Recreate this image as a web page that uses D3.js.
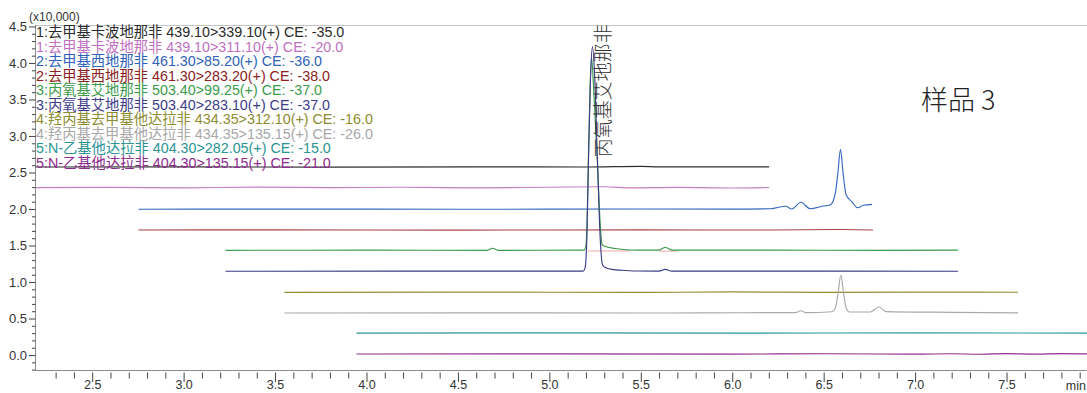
<!DOCTYPE html>
<html>
<head>
<meta charset="utf-8">
<script src="https://cdn.jsdelivr.net/npm/d3@7"></script>
<style>
  html, body { margin: 0; padding: 0; background: #fff; }
  svg { display: block; font-family: "Liberation Sans", Arial, "Noto Sans CJK SC", sans-serif; }
</style>
</head>
<body>
<svg id="chart" width="1087" height="393"></svg>
<script>
// MRM channel labels (compound : precursor > product, collision energy)
const channelLabels = [
  "1:去甲基卡波地那非 439.10>339.10(+) CE: -35.0",
  "1:去甲基卡波地那非 439.10>311.10(+) CE: -20.0",
  "2:去甲基西地那非 461.30>85.20(+) CE: -36.0",
  "2:去甲基西地那非 461.30>283.20(+) CE: -38.0",
  "3:丙氧基艾地那非 503.40>99.25(+) CE: -37.0",
  "3:丙氧基艾地那非 503.40>283.10(+) CE: -37.0",
  "4:羟丙基去甲基他达拉非 434.35>312.10(+) CE: -16.0",
  "4:羟丙基去甲基他达拉非 434.35>135.15(+) CE: -26.0",
  "5:N-乙基他达拉非 404.30>282.05(+) CE: -15.0",
  "5:N-乙基他达拉非 404.30>135.15(+) CE: -21.0"
];

// Offset chromatogram traces: [retention time (min), intensity (x10,000)]
const trace1a = [[2.19,2.575],[3.0,2.577],[3.8,2.574],[4.6,2.577],[5.2,2.575],[5.5,2.584],[5.6,2.576],[6.0,2.577],[6.202,2.576]];
const trace1b = [[2.19,2.292],[2.6,2.296],[3.0,2.290],[3.4,2.299],[3.8,2.292],[4.2,2.298],[4.6,2.290],[5.0,2.298],[5.3,2.305],[5.45,2.289],[5.7,2.296],[6.0,2.288],[6.202,2.294]];
const trace2a = [[2.753,1.996],[3.5,1.999],[4.5,1.996],[5.5,2.000],[6.0,1.998],[6.208,2.004],[6.293,2.037],[6.326,2.000],[6.375,2.092],[6.426,2.004],[6.499,2.041],[6.535,2.055],[6.553,2.114],[6.566,2.25],[6.578,2.50],[6.592,2.818],[6.604,2.55],[6.614,2.32],[6.623,2.192],[6.654,2.100],[6.685,2.018],[6.717,2.051],[6.765,2.064]];
const trace2b = [[2.753,1.712],[3.5,1.714],[4.5,1.711],[5.5,1.714],[6.2,1.712],[6.6,1.719],[6.770,1.712]];
const trace3a = [[3.229,1.434],[4.0,1.436],[4.66,1.434],[4.69,1.462],[4.72,1.434],[5.19,1.436],[5.199,1.48],[5.206,1.80],[5.213,2.626],[5.222,3.60],[5.231,4.068],[5.243,3.60],[5.263,2.626],[5.278,1.80],[5.288,1.516],[5.300,1.493],[5.360,1.459],[5.442,1.438],[5.597,1.436],[5.633,1.475],[5.673,1.436],[6.2,1.437],[6.8,1.433],[7.235,1.436]];
const trace3b = [[3.229,1.147],[4.2,1.149],[5.185,1.150],[5.195,1.19],[5.205,1.60],[5.214,2.671],[5.225,3.80],[5.236,4.223],[5.248,3.80],[5.263,2.671],[5.278,1.60],[5.291,1.233],[5.311,1.192],[5.350,1.170],[5.388,1.162],[5.470,1.151],[5.60,1.150],[5.633,1.174],[5.67,1.150],[6.5,1.149],[7.235,1.148]];
const trace4a = [[3.551,0.859],[4.5,0.862],[5.5,0.858],[6.0,0.864],[6.5,0.858],[7.0,0.862],[7.563,0.860]];
const trace4b = [[3.551,0.575],[4.5,0.578],[5.5,0.575],[6.2,0.580],[6.344,0.580],[6.375,0.607],[6.404,0.580],[6.545,0.593],[6.563,0.640],[6.580,0.867],[6.594,1.096],[6.608,0.867],[6.623,0.644],[6.641,0.589],[6.754,0.590],[6.803,0.658],[6.841,0.595],[7.2,0.585],[7.563,0.578]];
const trace5a = [[3.945,0.301],[5.0,0.303],[6.0,0.300],[7.0,0.303],[7.94,0.301]];
const trace5b = [[3.945,0.014],[5.0,0.016],[6.0,0.013],[6.5,0.018],[7.0,0.012],[7.2,0.017],[7.35,0.011],[7.5,0.019],[7.65,0.012],[7.8,0.020],[7.94,0.015]];
const traces = [trace1a, trace1b, trace2a, trace2b, trace3a, trace3b, trace4a, trace4b, trace5a, trace5b];

// Integration baselines under the 丙氧基艾地那非 peaks: [start, end, level]
const integrationBaselines = [[5.21, 5.44, 1.432], [5.60, 5.70, 1.430]];

const xTickValues = [2.5, 3.0, 3.5, 4.0, 4.5, 5.0, 5.5, 6.0, 6.5, 7.0, 7.5];
const yTickValues = [0.0, 0.5, 1.0, 1.5, 2.0, 2.5, 3.0, 3.5, 4.0, 4.5];
const peakName = "丙氧基艾地那非";
const sampleName = "样品 3";

// Drawing styles
const traceColors = ["#2e2e2e", "#c77fc6", "#3568bd", "#a84444", "#3b9a4b", "#3b3b86", "#8e8e33", "#a9a9a9", "#2a9898", "#902d90"];
const labelColors = ["#2a2a2a", "#c070c0", "#2f62b8", "#8b2222", "#3c9a4c", "#3c3c88", "#8c8c30", "#a8a8a8", "#2a9494", "#8e2b8e"];

const svg = d3.select("#chart");
const plotLeft = 35.5, plotRight = 1087, plotTop = 25, plotBottom = 370;

const x = d3.scaleLinear().domain([2.19, 7.94]).range([plotLeft, plotRight]);
const y = d3.scaleLinear().domain([-0.205, 4.52]).range([plotBottom, plotTop]);

svg.append("defs").append("clipPath").attr("id", "plotClip")
  .append("rect").attr("x", plotLeft).attr("y", 0).attr("width", plotRight - plotLeft).attr("height", plotBottom);

// frame
svg.append("line").attr("x1", plotLeft).attr("x2", plotRight).attr("y1", plotTop + 0.5).attr("y2", plotTop + 0.5)
  .attr("stroke", "#c4c4c4").attr("stroke-width", 1);
svg.append("line").attr("x1", plotLeft).attr("x2", plotLeft).attr("y1", plotTop).attr("y2", plotBottom)
  .attr("stroke", "#8a8a8a").attr("stroke-width", 1);
svg.append("line").attr("x1", plotLeft).attr("x2", plotRight).attr("y1", plotBottom + 0.5).attr("y2", plotBottom + 0.5)
  .attr("stroke", "#8a8a8a").attr("stroke-width", 1);

// y axis: major + minor ticks
const yMinor = d3.range(-2, 46).map(d => d / 10).filter(v => Math.abs(v * 2 - Math.round(v * 2)) > 1e-6);
svg.append("g").attr("transform", `translate(${plotLeft},0)`)
  .call(d3.axisLeft(y).tickValues(yMinor).tickSize(3.5).tickFormat(""))
  .call(g => g.select(".domain").remove())
  .call(g => g.selectAll("line").attr("stroke", "#444"));
svg.append("g").attr("transform", `translate(${plotLeft},0)`)
  .call(d3.axisLeft(y).tickValues(yTickValues).tickSize(6.5).tickPadding(2).tickFormat(d3.format(".1f")))
  .call(g => g.select(".domain").remove())
  .call(g => g.selectAll("line").attr("stroke", "#444"))
  .call(g => g.selectAll("text").attr("fill", "#333").style("font-size", "13px").style("font-family", "Liberation Sans, Arial, sans-serif"));

// x axis: major + minor ticks
const xMinor = d3.range(23, 80).map(d => d / 10).filter(v => Math.abs(v * 2 - Math.round(v * 2)) > 1e-6);
svg.append("g").attr("transform", `translate(0,${plotBottom + 2.5})`)
  .call(d3.axisBottom(x).tickValues(xMinor).tickSize(6).tickFormat(""))
  .call(g => g.select(".domain").remove())
  .call(g => g.selectAll("line").attr("stroke", "#444"));
svg.append("g").attr("transform", `translate(0,${plotBottom + 2.5})`)
  .call(d3.axisBottom(x).tickValues(xTickValues).tickSize(9.5).tickPadding(-1.5).tickFormat(d3.format(".1f")))
  .call(g => g.select(".domain").remove())
  .call(g => g.selectAll("line").attr("stroke", "#444"))
  .call(g => g.selectAll("text").attr("fill", "#333").style("font-size", "12.5px").style("font-family", "Liberation Sans, Arial, sans-serif"));

svg.append("text").attr("x", 1086).attr("y", 389.5).attr("text-anchor", "end").attr("fill", "#333")
  .style("font-size", "12.5px").text("min");

svg.append("text").attr("x", 29).attr("y", 21).attr("fill", "#333")
  .style("font-size", "12px").text("(x10,000)");

// traces
const line = d3.line().x(d => x(d[0])).y(d => y(d[1])).curve(d3.curveMonotoneX);
const plot = svg.append("g").attr("clip-path", "url(#plotClip)");

plot.selectAll("line.ibase").data(integrationBaselines).join("line")
  .attr("class", "ibase")
  .attr("x1", d => x(d[0])).attr("x2", d => x(d[1]))
  .attr("y1", d => y(d[2]) + 0.5).attr("y2", d => y(d[2]) + 0.5)
  .attr("stroke", "#f2a6a6").attr("stroke-width", 1);

plot.selectAll("path.trace").data(traces).join("path")
  .attr("class", "trace")
  .attr("d", line)
  .attr("fill", "none")
  .attr("stroke", (d, i) => traceColors[i])
  .attr("stroke-width", 1.15)
  .attr("stroke-linejoin", "round");

// channel legend
svg.append("g").selectAll("text").data(channelLabels).join("text")
  .attr("x", 36)
  .attr("y", (d, i) => 32 + i * 14.5)
  .attr("dominant-baseline", "central")
  .attr("fill", (d, i) => labelColors[i])
  .style("font-size", "14.3px")
  .text(d => d);

// peak annotation
svg.append("text")
  .attr("transform", `translate(${x(5.285)},${y(2.71)}) rotate(-90)`)
  .attr("dominant-baseline", "central")
  .attr("fill", "#333")
  .style("font-size", "19px")
  .style("font-weight", "300")
  .style("font-family", "Noto Sans CJK SC, sans-serif")
  .text(peakName);

// sample title
svg.append("text").attr("x", 921).attr("y", 98)
  .attr("dominant-baseline", "central")
  .attr("fill", "#222")
  .style("font-size", "27px")
  .style("font-weight", "300")
  .style("font-family", "Noto Sans CJK SC, sans-serif")
  .text(sampleName);
</script>
</body>
</html>
